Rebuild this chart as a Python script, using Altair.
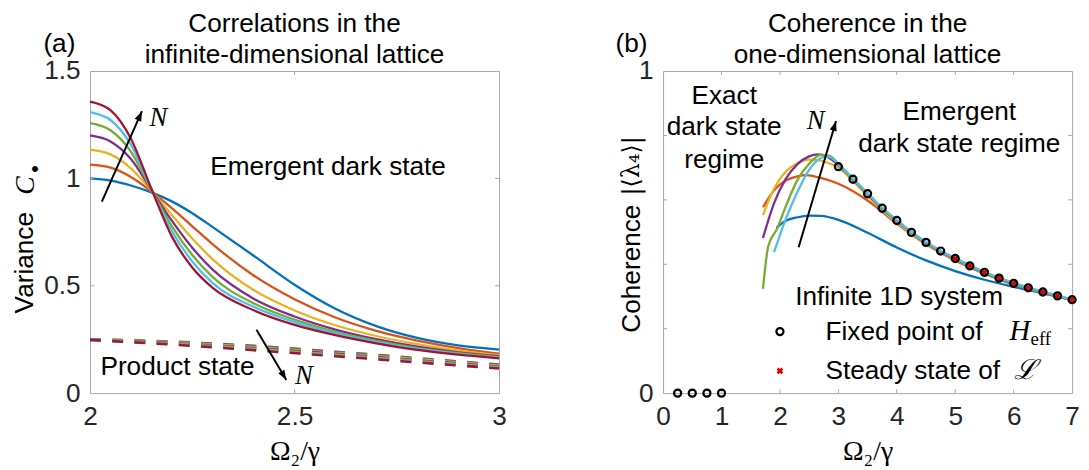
import altair as alt
import pandas as pd

SANS = "Liberation Sans"
SERIF = "Liberation Serif"
INK = "#262626"
BOX = "#a6a6a6"
FS = 26.5
COLORS = ["#0072BD", "#D95319", "#EDB120", "#7E2F8E", "#77AC30", "#4DBEEE", "#A2142F"]
NAMES = ["N1", "N2", "N3", "N4", "N5", "N6", "N7"]

# ---------------- panel (a) data ----------------
a_x = [2.0, 2.05, 2.1, 2.15, 2.2, 2.25, 2.3, 2.4, 2.5, 2.6, 2.7, 2.8, 2.9, 3.0]
a_solid = [
    [1.000, 0.990, 0.967, 0.935, 0.893, 0.838, 0.773, 0.640, 0.505, 0.393, 0.312, 0.257, 0.222, 0.203],
    [1.064, 1.050, 1.007, 0.940, 0.862, 0.777, 0.693, 0.548, 0.437, 0.352, 0.290, 0.245, 0.210, 0.184],
    [1.134, 1.112, 1.047, 0.943, 0.830, 0.720, 0.623, 0.480, 0.385, 0.316, 0.266, 0.228, 0.198, 0.177],
    [1.200, 1.172, 1.090, 0.947, 0.803, 0.677, 0.575, 0.440, 0.357, 0.296, 0.251, 0.216, 0.190, 0.172],
    [1.257, 1.224, 1.125, 0.948, 0.778, 0.643, 0.540, 0.418, 0.342, 0.285, 0.243, 0.210, 0.186, 0.168],
    [1.309, 1.272, 1.157, 0.950, 0.755, 0.613, 0.512, 0.402, 0.331, 0.278, 0.238, 0.206, 0.183, 0.165],
    [1.358, 1.318, 1.185, 0.952, 0.730, 0.585, 0.490, 0.386, 0.318, 0.270, 0.232, 0.201, 0.179, 0.162],
]
a_dash_x = [2.0, 2.2, 2.4, 2.6, 2.8, 3.0]
a_dash = [
    [0.250, 0.240, 0.220, 0.193, 0.163, 0.133],
    [0.250, 0.238, 0.217, 0.190, 0.160, 0.130],
    [0.249, 0.236, 0.213, 0.186, 0.157, 0.127],
    [0.249, 0.233, 0.210, 0.183, 0.153, 0.124],
    [0.249, 0.231, 0.207, 0.179, 0.150, 0.121],
    [0.248, 0.228, 0.203, 0.175, 0.146, 0.118],
    [0.248, 0.226, 0.200, 0.172, 0.143, 0.115],
]
a_xticks = [2, 2.5, 3]
a_yticks = [0, 0.5, 1, 1.5]
a_inner_x = [2.5]
a_inner_y = [0.5, 1.0]
a_notes = ["Emergent dark state", "Product state"]
a_notes_x = [2.582, 2.214]
a_notes_y = [1.053, 0.119]
a_n_x = [2.167, 2.523]
a_n_y = [1.283, 0.081]
a_arrow1_x = [2.029, 2.127]
a_arrow1_y = [0.892, 1.313]
a_arrow2_x = [2.407, 2.480]
a_arrow2_y = [0.295, 0.061]

# ---------------- panel (b) data ----------------
b_xs = [
    [1.94, 2.1, 2.3, 2.5, 2.7, 3.0, 3.5, 4.0, 4.5, 5.0, 5.5, 6.0, 6.5, 7.0],
    [1.71, 1.9, 2.1, 2.3, 2.45, 2.7, 3.0, 3.5, 4.0, 4.5, 5.0, 5.5, 6.0, 6.5, 7.0],
    [1.71, 1.9, 2.1, 2.3, 2.5, 2.7, 2.85, 3.0, 3.25, 3.5, 3.75, 4.0, 4.5, 5.0, 5.5, 6.0, 6.5, 7.0],
    [1.71, 1.9, 2.1, 2.3, 2.5, 2.65, 2.8, 3.0, 3.25, 3.5, 3.75, 4.0, 4.5, 5.0, 5.5, 6.0, 6.5, 7.0],
    [1.71, 1.80, 1.95, 2.1, 2.3, 2.5, 2.7, 2.85, 3.0, 3.25, 3.5, 3.75, 4.0, 4.5, 5.0, 5.5, 6.0, 6.5, 7.0],
    [1.90, 2.1, 2.3, 2.5, 2.65, 2.8, 2.9, 3.0, 3.25, 3.5, 3.75, 4.0, 4.25, 4.5, 4.75, 5.0, 5.5, 6.0, 6.5, 7.0],
]
b_ys = [
    [0.513, 0.535, 0.546, 0.551, 0.550, 0.538, 0.498, 0.452, 0.412, 0.379, 0.352, 0.330, 0.310, 0.290],
    [0.577, 0.630, 0.660, 0.673, 0.677, 0.668, 0.650, 0.598, 0.526, 0.462, 0.412, 0.371, 0.337, 0.311, 0.289],
    [0.553, 0.635, 0.688, 0.714, 0.725, 0.722, 0.713, 0.700, 0.658, 0.612, 0.568, 0.529, 0.464, 0.415, 0.373, 0.339, 0.312, 0.289],
    [0.482, 0.590, 0.665, 0.711, 0.735, 0.741, 0.735, 0.708, 0.664, 0.618, 0.573, 0.535, 0.467, 0.417, 0.374, 0.340, 0.313, 0.290],
    [0.324, 0.456, 0.510, 0.580, 0.662, 0.712, 0.740, 0.737, 0.712, 0.666, 0.620, 0.575, 0.536, 0.468, 0.418, 0.375, 0.341, 0.314, 0.290],
    [0.438, 0.540, 0.625, 0.693, 0.724, 0.735, 0.728, 0.710, 0.666, 0.620, 0.575, 0.537, 0.500, 0.469, 0.442, 0.419, 0.376, 0.342, 0.315, 0.291],
]
b_circ_x = [0.25, 0.5, 0.75, 1.0, 3.0, 3.25, 3.5, 3.75, 4.0, 4.25, 4.5, 4.75, 5.0, 5.25, 5.5, 5.75,
            6.0, 6.25, 6.5, 6.75, 7.0]
b_circ_y = [0, 0, 0, 0, 0.703, 0.664, 0.619, 0.574, 0.536, 0.499, 0.468, 0.441, 0.418, 0.395, 0.375,
            0.357, 0.341, 0.327, 0.314, 0.302, 0.290]
b_cross_x = [5.0, 5.25, 5.5, 5.75, 6.0, 6.25, 6.5, 6.75, 7.0]
b_cross_y = [0.418, 0.395, 0.375, 0.357, 0.341, 0.327, 0.314, 0.302, 0.290]
b_xticks = [0, 1, 2, 3, 4, 5, 6, 7]
b_yticks = [0, 1]
b_inner_x = [1, 2, 3, 4, 5, 6]
b_inner_y = [0.2, 0.4, 0.6, 0.8]
b_exact = ["Exact", "dark state", "regime"]
b_exact_x = [1.046, 1.046, 1.046]
b_exact_y = [0.922, 0.825, 0.723]
b_emerg = ["Emergent", "dark state regime"]
b_emerg_x = [5.07, 5.07]
b_emerg_y = [0.871, 0.774]
b_leg_head = ["Infinite 1D system"]
b_leg_head_x = [4.04]
b_leg_head_y = [0.298]
b_leg = ["Fixed point of", "Steady state of"]
b_leg_x = [2.78, 2.78]
b_leg_y = [0.191, 0.069]
b_leg_circ = [2.0, 0.191]
b_leg_cross = [2.0, 0.069]
b_arrow_x = [2.32, 2.96]
b_arrow_y = [0.453, 0.845]
b_n = [2.61, 0.845]

W = 414
H = 326
ONE = pd.DataFrame({"k": [0]})


def sc(dom):
    return alt.Scale(domain=dom, nice=False, zero=False)


def pts(xs, ys, texts=None):
    d = {"x": xs, "y": ys}
    if texts is not None:
        d["t"] = texts
    return pd.DataFrame(d)


def long_df(xs_list, ys_list, names):
    rows = []
    for name, xs, ys in zip(names, xs_list, ys_list):
        for x, y in zip(xs, ys):
            rows.append({"x": x, "y": y, "s": name})
    return pd.DataFrame(rows)


def x_axis(values, fmt):
    return alt.Axis(values=values, format=fmt, title="Ω₂/γ", grid=False, ticks=False, domain=False,
                    labelFont=SANS, labelFontSize=FS, labelColor=INK, labelPadding=11,
                    labelFlush=False, titleFont=SERIF, titleFontSize=28, titleFontWeight="normal",
                    titleColor="black", titlePadding=8)


def y_axis(values, fmt):
    return alt.Axis(values=values, format=fmt, title=None, grid=False, ticks=False, domain=False,
                    labelFont=SANS, labelFontSize=FS, labelColor=INK, labelPadding=10,
                    labelFlush=False)


class Panel:
    def __init__(self, xdom, ydom, xvals, yvals, fmt):
        self.xdom, self.ydom = xdom, ydom
        self.xax = x_axis(xvals, fmt)
        self.yax = y_axis(yvals, fmt)

    def X(self):
        return alt.X("x:Q", scale=sc(self.xdom), axis=self.xax)

    def Y(self):
        return alt.Y("y:Q", scale=sc(self.ydom), axis=self.yax)

    def XY(self):
        return dict(x=self.X(), y=self.Y())

    def ticks(self, xs, ys):
        dx = pd.DataFrame({"x": xs})
        dy = pd.DataFrame({"y": ys})
        return [
            alt.Chart(dx).mark_rule(color=BOX, strokeWidth=1).encode(x=self.X(), y=alt.value(H), y2=alt.value(H - 4)),
            alt.Chart(dx).mark_rule(color=BOX, strokeWidth=1).encode(x=self.X(), y=alt.value(0), y2=alt.value(4)),
            alt.Chart(dy).mark_rule(color=BOX, strokeWidth=1).encode(y=self.Y(), x=alt.value(0), x2=alt.value(4)),
            alt.Chart(dy).mark_rule(color=BOX, strokeWidth=1).encode(y=self.Y(), x=alt.value(W), x2=alt.value(W - 4)),
        ]

    def arrow(self, xs, ys, angle):
        line = alt.Chart(pts(xs, ys)).mark_line(color="black", strokeWidth=2).encode(**self.XY())
        head = alt.Chart(pts(xs[1:], ys[1:])).mark_point(
            shape="M0,0L-0.36,1L0.36,1Z", filled=True, color="black", opacity=1, size=400, angle=angle,
            strokeWidth=0).encode(**self.XY())
        return [line, head]

    def texts(self, xs, ys, ts, **kw):
        props = dict(font=SANS, fontSize=FS, color="black")
        props.update(kw)
        return alt.Chart(pts(xs, ys, ts)).mark_text(**props).encode(**self.XY(), text="t:N")


def label(text, x, y, font=SANS, size=FS, style="normal", angle=0, **kw):
    return alt.Chart(ONE).mark_text(text=text, font=font, fontSize=size, fontStyle=style, angle=angle,
                                    color="black", align="center", baseline="middle", **kw).encode(
        x=alt.value(x), y=alt.value(y))


def title_marks(lines):
    return [label(lines[0], W / 2, -47), label(lines[1], W / 2, -16)]


# ---------------- panel (a) ----------------
pa = Panel([2, 3], [0, 1.5], a_xticks, a_yticks, "~g")
a_layers = [
    alt.Chart(long_df([a_dash_x] * 7, a_dash, NAMES)).mark_line(
        strokeWidth=2.6, strokeDash=[11, 11.5], interpolate="monotone").encode(
        **pa.XY(), color=alt.Color("s:N", scale=alt.Scale(domain=NAMES, range=COLORS), legend=None)),
    alt.Chart(long_df([a_x] * 7, a_solid, NAMES)).mark_line(
        strokeWidth=2.3, interpolate="monotone").encode(
        **pa.XY(), color=alt.Color("s:N", scale=alt.Scale(domain=NAMES, range=COLORS), legend=None)),
]
a_layers += pa.ticks(a_inner_x, a_inner_y)
a_layers += pa.arrow(a_arrow1_x, a_arrow1_y, 23.9)
a_layers += pa.arrow(a_arrow2_x, a_arrow2_y, 149.3)
a_layers += [
    pa.texts(a_notes_x, a_notes_y, a_notes),
    pa.texts(a_n_x, a_n_y, ["N", "N"], font=SERIF, fontSize=27, fontStyle="italic"),
    label("(a)", -31, -27),
    label("Variance", -66, 194, angle=270),
    label("C", -65, 116, font=SERIF, size=28, style="italic", angle=270),
    label("•", -56, 99, size=22, angle=270),
]
a_layers += title_marks(["Correlations in the", "infinite-dimensional lattice"])
panel_a = alt.layer(*a_layers).properties(width=W, height=H)

# ---------------- panel (b) ----------------
pb = Panel([0, 7], [0, 1], b_xticks, b_yticks, "d")
b_layers = [
    alt.Chart(long_df(b_xs, b_ys, NAMES[:6])).mark_line(
        strokeWidth=2.3, interpolate="monotone").encode(
        **pb.XY(), color=alt.Color("s:N", scale=alt.Scale(domain=NAMES[:6], range=COLORS[:6]), legend=None)),
]
b_layers += pb.ticks(b_inner_x, b_inner_y)
b_layers += [
    alt.Chart(pts(b_cross_x, b_cross_y)).mark_point(
        shape="cross", angle=45, filled=True, color="#e00000", opacity=1, size=42).encode(**pb.XY()),
    alt.Chart(pts(b_circ_x, b_circ_y)).mark_point(
        shape="circle", filled=False, color="black", opacity=1, size=52, strokeWidth=2.2).encode(**pb.XY()),
    alt.Chart(pts([b_leg_cross[0]], [b_leg_cross[1]])).mark_point(
        shape="cross", angle=45, filled=True, color="#e00000", opacity=1, size=48).encode(**pb.XY()),
    alt.Chart(pts([b_leg_circ[0]], [b_leg_circ[1]])).mark_point(
        shape="circle", filled=False, color="black", opacity=1, size=52, strokeWidth=2.2).encode(**pb.XY()),
]
b_layers += pb.arrow(b_arrow_x, b_arrow_y, 16.7)
b_layers += [
    pb.texts(b_exact_x, b_exact_y, b_exact),
    pb.texts(b_emerg_x, b_emerg_y, b_emerg),
    pb.texts(b_leg_head_x, b_leg_head_y, b_leg_head),
    pb.texts(b_leg_x, b_leg_y, b_leg, align="left"),
    pb.texts([5.93], [0.191], ["H"], font=SERIF, fontSize=29, fontStyle="italic", align="left"),
    pb.texts([6.29], [0.191], ["eff"], font=SERIF, fontSize=19, align="left", dy=8),
    pb.texts([6.2], [0.069], ["ℒ"], font=SERIF, fontSize=28, fontStyle="italic"),
    pb.texts([b_n[0]], [b_n[1]], ["N"], font=SERIF, fontSize=27, fontStyle="italic"),
    label("(b)", -32, -27),
    label("Coherence", -31, 200, angle=270),
    label("|⟨λ₄⟩|", -31, 96, font="DejaVu Serif", size=24, angle=270),
]
b_layers += title_marks(["Coherence in the", "one-dimensional lattice"])
panel_b = alt.layer(*b_layers).properties(width=W, height=H)

chart = alt.hconcat(panel_a, panel_b, spacing=109).properties(
    padding={"left": 3, "top": 0, "right": 0, "bottom": 0},
    background="white").configure_view(stroke=BOX, strokeWidth=1)

chart.save("out.html", embed_options={"renderer": "svg", "actions": False})
